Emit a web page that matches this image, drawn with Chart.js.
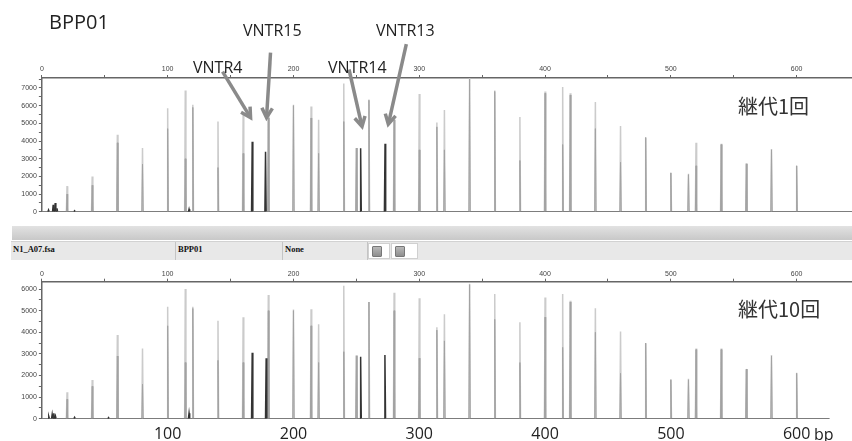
<!DOCTYPE html>
<html lang="ja">
<head>
<meta charset="UTF-8">
<title>BPP01 継代1回 / 継代10回</title>
<script src="https://cdn.jsdelivr.net/npm/chart.js"></script>
<style>
  body { margin: 0; width: 852px; height: 441px; position: relative; overflow: hidden; background: #fff; font-family: 'Open Sans', sans-serif; }
  canvas { position: absolute; left: 0; }
  #topChart { top: 0; }
  #bottomChart { top: 262px; }
  .lbl { position: absolute; color: #222; white-space: nowrap; line-height: 1; }
  .jp { font-family: 'Noto Sans CJK JP', sans-serif; font-size: 20px; color: #333; }
  /* software toolbar between the two traces */
  #band { position: absolute; left: 12px; top: 226px; width: 840px; height: 14px; background: linear-gradient(#e2e2e2, #c8c8c8); }
  #row { position: absolute; left: 11px; top: 241px; width: 841px; height: 19px; background: #e8e8e8; border-top: 1px solid #d2d2d2; box-sizing: border-box; }
  .cell { position: absolute; top: 0; height: 18px; line-height: 18px; padding-top: 2px; font: bold 8.5px 'Liberation Serif', serif; color: #111; padding-left: 2px; box-sizing: border-box; border-right: 1px solid #c4c4c4; }
  .box { position: absolute; top: 1px; height: 16px; background: #fff; border: 1px solid #d0d0d0; box-sizing: border-box; }
  .btn { position: absolute; left: 3px; top: 2px; width: 10px; height: 11px; background: linear-gradient(#b8b8b8, #8e8e8e); border: 1px solid #777; box-sizing: border-box; border-radius: 1px; }
</style>
</head>
<body>
<canvas id="topChart" width="852" height="218"></canvas>
<canvas id="bottomChart" width="852" height="179"></canvas>

<div class="lbl" style="left:49px; top:12px; font-size:20px;">BPP01</div>
<div class="lbl" style="left:243px; top:22px; font-size:16px;">VNTR15</div>
<div class="lbl" style="left:376px; top:22px; font-size:16px;">VNTR13</div>
<div class="lbl" style="left:193px; top:59px; font-size:16px;">VNTR4</div>
<div class="lbl" style="left:328px; top:59px; font-size:16px;">VNTR14</div>
<div class="lbl jp" style="left:738px; top:96px;">継代1回</div>
<div class="lbl jp" style="left:738px; top:299px;">継代10回</div>
<div class="lbl" style="left:814px; top:426px; font-size:16px;">bp</div>

<div id="band"></div>
<div id="row">
  <div class="cell" style="left:0; width:165px;">N1_A07.fsa</div>
  <div class="cell" style="left:165px; width:107px;">BPP01</div>
  <div class="cell" style="left:272px; width:85px;">None</div>
  <div class="box" style="left:357px; width:22px;"><div class="btn"></div></div>
  <div class="box" style="left:380px; width:27px;"><div class="btn"></div></div>
</div>

<script>
// size standard fragments (bp)
const sizeStd = [20, 40, 60, 80, 100, 114, 120, 140, 160, 180, 200, 214, 220, 240, 250, 260, 280, 300,
                 314, 320, 340, 360, 380, 400, 414, 420, 440, 460, 480, 500, 514, 520, 540, 560, 580, 600];

// 継代1回 : peak heights (RFU)
const top1Outer = [1450, 2000, 4350, 3600, 5850, 6850, 6050, 5100, 5550, 5400, 6050, 5950, 5200, 7250, 3600, 6350, 5200, 6650,
                   5050, 5750, 7550, 6850, 5350, 6800, 7050, 6700, 6200, 4850, 4200, 2200, 2150, 3900, 3850, 2750, 3550, 2600];
const top1Inner = [1000, 1500, 3900, 2700, 4700, 3000, 5900, 2500, 3300, 5300, 6000, 5300, 3300, 5100, 3600, 6300, 5200, 3500,
                   4800, 3500, 7500, 6800, 2900, 6700, 3800, 6600, 4700, 2800, 4200, 2200, 2100, 2600, 3800, 2700, 3500, 2600];
const top1SamplePos = [5.3, 9, 10.6, 12, 26, 117, 167.2, 177.8, 253.4, 272.8];
const top1SampleHt  = [100, 400, 500, 200, 50, 150, 3960, 3390, 3590, 3850];

// 継代10回 : peak heights (RFU)
const bot10Outer = [1220, 1790, 3870, 3250, 5180, 6000, 5180, 4530, 4690, 5720, 5050, 5070, 4370, 6150, 2950, 5400, 5830, 5570,
                    4230, 4830, 6250, 5770, 4460, 5610, 5770, 5460, 5110, 4030, 3490, 1820, 1850, 3250, 3250, 2280, 2950, 2130];
const bot10Inner = [900, 1500, 2900, 1600, 4300, 2600, 5100, 2700, 2600, 5000, 5000, 4300, 2600, 3100, 2900, 5400, 5000, 2800,
                    4100, 3600, 6200, 4600, 2600, 4700, 3300, 5400, 4000, 2100, 3500, 1800, 1800, 3200, 3200, 2300, 2900, 2100];
const bot10SamplePos = [5.5, 8.2, 9.5, 10.8, 26, 53, 117, 167.2, 178.3, 253.4, 272.7];
const bot10SampleHt  = [100, 200, 250, 120, 60, 50, 250, 3050, 2800, 2870, 2950];

// tick values
const bpTicks = [0, 50, 100, 150, 200, 250, 300, 350, 400, 450, 500, 550, 600];
const bpLabels = [100, 200, 300, 400, 500, 600];
const rfuTicks1 = [0, 500, 1000, 1500, 2000, 2500, 3000, 3500, 4000, 4500, 5000, 5500, 6000, 6500, 7000, 7500];
const rfuTicks10 = [0, 500, 1000, 1500, 2000, 2500, 3000, 3500, 4000, 4500, 5000, 5500, 6000];

// arrow annotations: tip in data units, tail offset in px
const arrowBp  = [165.9, 178.6, 254.5, 275.4];
const arrowRfu = [5320, 5320, 4820, 4950];
const arrowTail = [[-28, -46], [4, -65], [-13, -57], [18, -80]];

const baseColor = '#7a7a7a';

// turn peak lists into an electropherogram trace
function trace(pos, hts, end) {
  const pts = [{x: 0, y: 0}];
  pos.forEach((p, i) => {
    pts.push({x: p - 0.5, y: 0}, {x: p, y: hts[i]}, {x: p + 0.5, y: 0});
  });
  pts.push({x: end, y: 0});
  return pts;
}

function ds(pts, color, w) {
  return {
    data: pts, borderColor: color, borderWidth: w, pointRadius: 0, tension: 0, fill: false,
    segment: { borderColor: c => (c.p0.parsed.y === 0 && c.p1.parsed.y === 0) ? baseColor : undefined }
  };
}

const tickFont = { family: 'Liberation Sans', size: 7 };

function yAxis(max, vals) {
  return {
    type: 'linear', position: 'left', min: 0, max: max,
    afterBuildTicks: s => { s.ticks = vals.map(v => ({value: v})); },
    ticks: { autoSkip: false, font: tickFont, color: '#444', padding: 2,
             callback: v => v % 1000 === 0 ? String(v) : '' },
    grid: { drawOnChartArea: false, tickLength: 3, color: '#666' },
    border: { color: '#666', width: 1.5 }
  };
}

function xTop(pad) {
  return {
    type: 'linear', position: 'top', min: 0, max: 644,
    afterBuildTicks: s => { s.ticks = bpTicks.map(v => ({value: v})); },
    ticks: { autoSkip: false, maxRotation: 0, font: tickFont, color: '#444', padding: pad,
             callback: v => v % 100 === 0 ? String(v) : '' },
    grid: { drawOnChartArea: false, tickLength: 3, color: '#666' },
    border: { color: '#666', width: 1.5 },
    afterFit: s => { s.height = 14; }
  };
}

const arrowPlugin = {
  id: 'arrows',
  afterDatasetsDraw(chart) {
    const {ctx, scales: {x, y}} = chart;
    ctx.save();
    ctx.strokeStyle = '#8a8a8a';
    ctx.lineWidth = 3.5;
    ctx.lineJoin = 'miter';
    arrowBp.forEach((bp, i) => {
      const tx = x.getPixelForValue(bp), ty = y.getPixelForValue(arrowRfu[i]);
      const sx = tx + arrowTail[i][0], sy = ty + arrowTail[i][1];
      const a = Math.atan2(ty - sy, tx - sx);
      ctx.beginPath();
      ctx.moveTo(sx, sy);
      ctx.lineTo(tx - 3 * Math.cos(a), ty - 3 * Math.sin(a));
      ctx.stroke();
      ctx.beginPath();
      ctx.moveTo(tx - 11 * Math.cos(a - 0.5), ty - 11 * Math.sin(a - 0.5));
      ctx.lineTo(tx, ty);
      ctx.lineTo(tx - 11 * Math.cos(a + 0.5), ty - 11 * Math.sin(a + 0.5));
      ctx.stroke();
    });
    ctx.restore();
  }
};

const common = {
  responsive: false, animation: false, devicePixelRatio: 1,
  plugins: { legend: { display: false }, tooltip: { enabled: false } }
};

// 継代1回
new Chart(document.getElementById('topChart'), {
  type: 'line',
  data: { datasets: [
    ds(trace(top1SamplePos, top1SampleHt, 644), '#333', 1.5),
    ds(trace(sizeStd, top1Inner, 644), '#a2a2a2', 1),
    ds(trace(sizeStd, top1Outer, 644), '#cbcbcb', 1.5)
  ]},
  options: Object.assign({}, common, {
    layout: { padding: { top: 64, bottom: 4.3, left: 19.3, right: 0 } },
    scales: { x: xTop(2), y: yAxis(7560, rfuTicks1) }
  }),
  plugins: [arrowPlugin]
});

// 継代10回
new Chart(document.getElementById('bottomChart'), {
  type: 'line',
  data: { datasets: [
    ds(trace(bot10SamplePos, bot10SampleHt, 626), '#333', 1.5),
    ds(trace(sizeStd, bot10Inner, 626), '#a2a2a2', 1),
    ds(trace(sizeStd, bot10Outer, 626), '#cbcbcb', 1.5)
  ]},
  options: Object.assign({}, common, {
    layout: { padding: { top: 5.7, bottom: 0, left: 19.3, right: 0 } },
    scales: {
      x: xTop(0),
      xb: {
        type: 'linear', position: 'bottom', min: 0, max: 644,
        afterBuildTicks: s => { s.ticks = bpLabels.map(v => ({value: v})); },
        ticks: { autoSkip: false, maxRotation: 0, font: { family: 'Open Sans', size: 16 }, color: '#222', padding: 6 },
        grid: { display: false, drawTicks: false },
        border: { display: false },
        afterFit: s => { s.height = 22.3; }
      },
      y: yAxis(6340, rfuTicks10)
    }
  })
});
</script>
</body>
</html>
